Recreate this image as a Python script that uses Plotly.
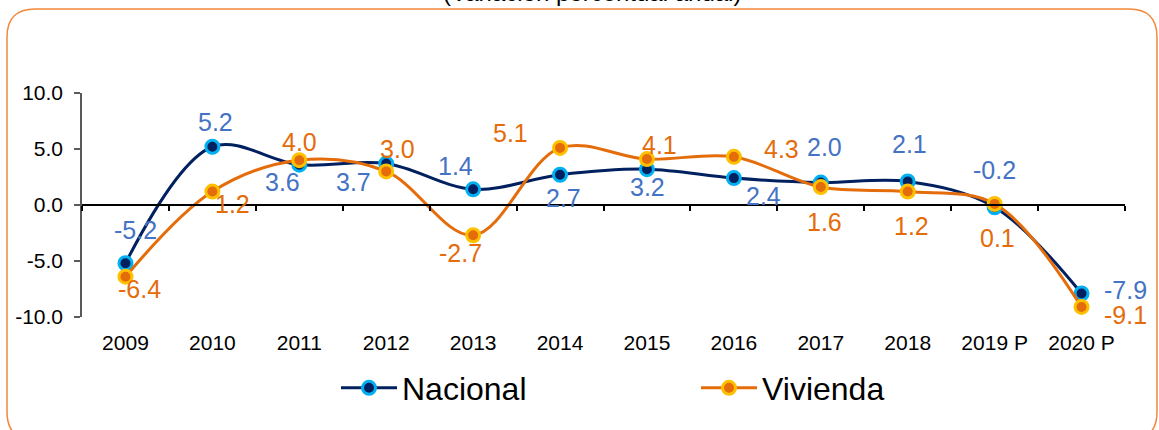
import plotly.graph_objects as go

categories = ["2009", "2010", "2011", "2012", "2013", "2014", "2015", "2016", "2017", "2018", "2019 P", "2020 P"]
nacional = [-5.2, 5.2, 3.6, 3.7, 1.4, 2.7, 3.2, 2.4, 2.0, 2.1, -0.2, -7.9]
vivienda = [-6.4, 1.2, 4.0, 3.0, -2.7, 5.1, 4.1, 4.3, 1.6, 1.2, 0.1, -9.1]
y_ticks = [-10, -5, 0, 5, 10]
y_tick_text = ["-10.0", "-5.0", "0.0", "5.0", "10.0"]

# label offsets (px, screen direction: +x right, +y down) relative to each point
nac_off = [(10, -31), (3, -23), (-17, 19), (-33, 20), (-18, -21), (3, 25),
           (1, 20), (30, 20), (4, -34), (2, -35), (0, -35), (44, -1)]
viv_off = [(14, 14), (20, 14), (0, -16), (11, -20), (-13, 20), (-50, -13),
           (13, -12), (48, -6), (4, 37), (4, 36), (3, 36), (44, 10)]

W, H = 1159, 430
L, R, T, B = 82, 34, 93, 113
pw, ph = W - L - R, H - T - B

def px(xp):
    return (xp - L) / pw

def py(yp):
    return (H - B - yp) / ph

FONT = "Liberation Sans, Arial, sans-serif"
NAC_LINE, NAC_EDGE, NAC_TXT = "#002060", "#00B0F0", "#4472C4"
VIV_LINE, VIV_EDGE, VIV_TXT = "#E46C0A", "#FFC000", "#E46C0A"

fig = go.Figure()
fig.add_trace(go.Scatter(
    x=categories, y=nacional, name="Nacional", mode="lines+markers",
    line=dict(color=NAC_LINE, width=3, shape="spline", smoothing=1),
    marker=dict(color=NAC_LINE, size=13, line=dict(color=NAC_EDGE, width=3)),
    cliponaxis=False,
))
fig.add_trace(go.Scatter(
    x=categories, y=vivienda, name="Vivienda", mode="lines+markers",
    line=dict(color=VIV_LINE, width=3, shape="spline", smoothing=1),
    marker=dict(color=VIV_LINE, size=13, line=dict(color=VIV_EDGE, width=3)),
    cliponaxis=False,
))
# helper trace for the zero-line axis
fig.add_trace(go.Scatter(x=categories, y=nacional, xaxis="x2", mode="lines",
                         opacity=0, showlegend=False, hoverinfo="skip"))

for vals, offs, col in ((nacional, nac_off, NAC_TXT), (vivienda, viv_off, VIV_TXT)):
    for i, (v, (dx, dy)) in enumerate(zip(vals, offs)):
        # category axis: annotation x is the category's serial index
        fig.add_annotation(x=i, y=v, xref="x", yref="y", text=f"{v:.1f}", showarrow=False,
                           xanchor="center", yanchor="middle", xshift=dx, yshift=-dy + 2,
                           font=dict(family=FONT, size=25, color=col))

# rounded border
x0, x1, y0, y1, r = 7, 1157, 9, 440, 28
path = (f"M{px(x0 + r)},{py(y0)} L{px(x1 - r)},{py(y0)} Q{px(x1)},{py(y0)} {px(x1)},{py(y0 + r)} "
        f"L{px(x1)},{py(y1 - r)} Q{px(x1)},{py(y1)} {px(x1 - r)},{py(y1)} "
        f"L{px(x0 + r)},{py(y1)} Q{px(x0)},{py(y1)} {px(x0)},{py(y1 - r)} "
        f"L{px(x0)},{py(y0 + r)} Q{px(x0)},{py(y0)} {px(x0 + r)},{py(y0)} Z")
fig.add_shape(type="path", path=path, xref="paper", yref="paper",
              line=dict(color="#F4883A", width=1.5), layer="below")

fig.add_annotation(text="(Variación porcentual anual)", x=px(592), y=py(8), xref="paper", yref="paper",
                   xanchor="center", yanchor="bottom", showarrow=False,
                   font=dict(family=FONT, size=24, color="#000000"))

fig.update_layout(
    width=W, height=H, margin=dict(l=L, r=R, t=T, b=B),
    paper_bgcolor="white", plot_bgcolor="white",
    font=dict(family=FONT, color="#000000"),
    showlegend=True,
    legend=dict(orientation="h", x=px(336), y=py(388), xanchor="left", yanchor="middle",
                font=dict(family=FONT, size=32, color="#000000"), entrywidth=289, itemwidth=56),
    xaxis=dict(type="category", range=[-0.5, len(categories) - 0.5], autorange=False,
               showline=False, showgrid=False, zeroline=False, ticks="",
               tickfont=dict(family=FONT, size=21, color="#000000"), ticklabelstandoff=11),
    xaxis2=dict(type="category", overlaying="x", matches="x", anchor="free", position=0.5,
                showline=True, linecolor="#000000", linewidth=1.5, ticks="outside",
                tickson="boundaries", ticklen=5, tickcolor="#000000", tickwidth=1.5,
                showticklabels=False, showgrid=False, zeroline=False, side="bottom"),
    yaxis=dict(range=[-10, 10], tickvals=y_ticks, ticktext=y_tick_text, showgrid=False,
               zeroline=False, showline=True, linecolor="#595959", linewidth=1.5,
               ticks="outside", ticklen=6, tickcolor="#595959", tickwidth=1.5,
               tickfont=dict(family=FONT, size=21, color="#000000"), ticklabelstandoff=7),
)

fig.write_html("out.html", config={"displayModeBar": False},
               post_script="document.body.style.margin='0';")
